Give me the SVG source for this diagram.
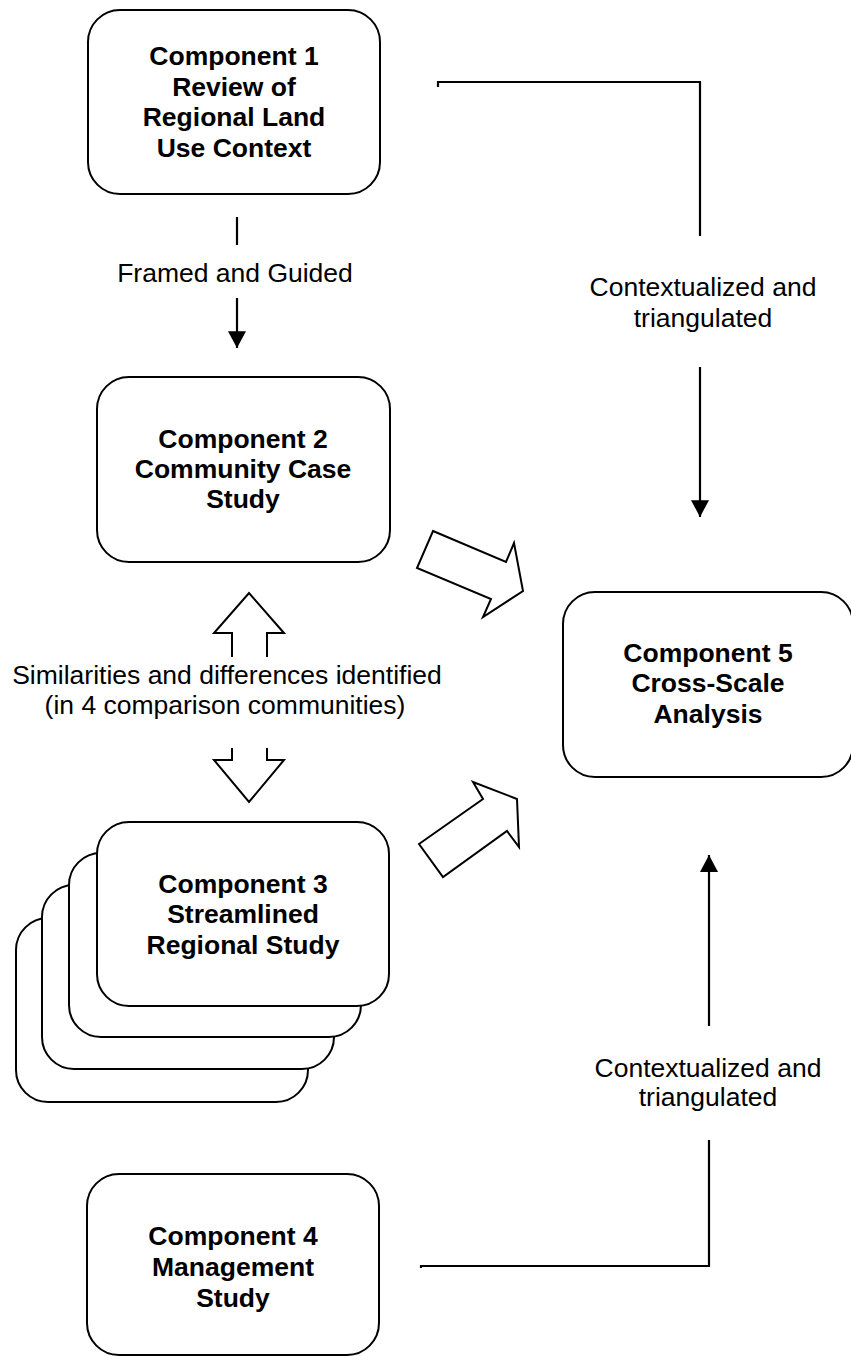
<svg xmlns="http://www.w3.org/2000/svg" width="851" height="1356" viewBox="0 0 851 1356">
<style>
.box{fill:#fff;stroke:#000;stroke-width:2}
.nt{font-family:"Liberation Sans",Arial,sans-serif;font-size:26.5px;font-weight:bold;text-anchor:middle;fill:#000}
.lt{font-family:"Liberation Sans",Arial,sans-serif;font-size:26.5px;text-anchor:middle;fill:#000}
.ln{fill:none;stroke:#000;stroke-width:2.2}
.blk{fill:#fff;stroke:#000;stroke-width:2;stroke-linejoin:miter}
</style>
<defs>
<marker id="ah" markerUnits="userSpaceOnUse" markerWidth="18" markerHeight="18" viewBox="0 0 16 16" refX="15" refY="8" orient="auto">
<path d="M0,0 L15,8 L0,16 Z" fill="#000"/>
</marker>
</defs>
<rect width="851" height="1356" fill="#fff"/>

<g id="connectors">
<path class="ln" d="M237,217 L237,245"/>
<path class="ln" d="M237,298 L237,348" marker-end="url(#ah)"/>
<path class="ln" d="M438,87 L438,82 L700,82 L700,236"/>
<path class="ln" d="M700,367 L700,517" marker-end="url(#ah)"/>
<path class="ln" d="M709,1026 L709,855" marker-end="url(#ah)"/>
<path class="ln" d="M709,1140 L709,1266 L421,1266 L421,1268"/>
<path class="blk" d="M232,657 L232,633 L214,633 L249,593 L284,633 L267,633 L267,657" fill="none"/>
<path class="blk" d="M232,748 L232,760 L214,760 L249,802 L284,760 L267,760 L267,748" fill="none"/>
<path class="blk" d="M433,531 L506,562 L514,543 L523,591 L483,617 L491,599 L417,568 Z"/>
<path class="blk" d="M419,844 L483,799 L473,782 L517,799 L519,847 L507,831 L443,877 Z"/>
<text class="lt" x="235" y="282">Framed and Guided</text>
<text class="lt" x="703" y="296">Contextualized and</text>
<text class="lt" x="703" y="327">triangulated</text>
<text class="lt" x="708" y="1077">Contextualized and</text>
<text class="lt" x="708" y="1106">triangulated</text>
<text class="lt" x="227" y="684">Similarities and differences identified</text>
<text class="lt" x="225" y="714">(in 4 comparison communities)</text>
</g>

<g id="node1">
<rect class="box" x="88" y="10" width="292" height="184" rx="32"/>
<text class="nt" x="234" y="65">Component 1</text>
<text class="nt" x="234" y="96">Review of</text>
<text class="nt" x="234" y="126">Regional Land</text>
<text class="nt" x="234" y="157">Use Context</text>
</g>

<g id="node2">
<rect class="box" x="97" y="377" width="293" height="185" rx="32"/>
<text class="nt" x="243" y="448">Component 2</text>
<text class="nt" x="243" y="478">Community Case</text>
<text class="nt" x="243" y="508">Study</text>
</g>

<g id="node3">
<rect class="box" x="16" y="918" width="292" height="184" rx="32"/>
<rect class="box" x="42" y="885" width="292" height="184" rx="32"/>
<rect class="box" x="69" y="853" width="292" height="184" rx="32"/>
<rect class="box" x="97" y="822" width="292" height="184" rx="32"/>
<text class="nt" x="243" y="893">Component 3</text>
<text class="nt" x="243" y="923">Streamlined</text>
<text class="nt" x="243" y="954">Regional Study</text>
</g>

<g id="node4">
<rect class="box" x="87" y="1174" width="292" height="181" rx="32"/>
<text class="nt" x="233" y="1245">Component 4</text>
<text class="nt" x="233" y="1276">Management</text>
<text class="nt" x="233" y="1307">Study</text>
</g>

<g id="node5">
<rect class="box" x="563" y="592" width="290" height="185" rx="32"/>
<text class="nt" x="708" y="662">Component 5</text>
<text class="nt" x="708" y="692">Cross-Scale</text>
<text class="nt" x="708" y="723">Analysis</text>
</g>
</svg>
